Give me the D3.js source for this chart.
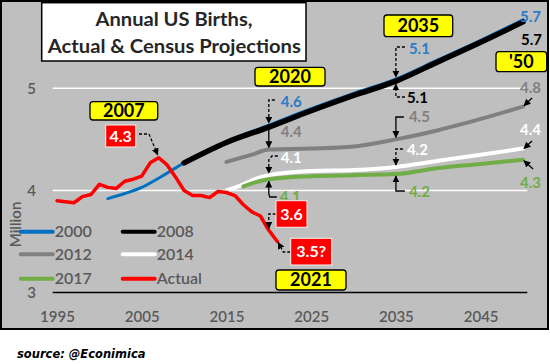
<!DOCTYPE html>
<html><head><meta charset="utf-8">
<script src="https://cdn.jsdelivr.net/npm/d3@7"></script>
<style>
html,body{margin:0;padding:0;background:#fff;}
svg{display:block;}
text{font-family:Lato,"Open Sans",sans-serif;}
</style></head><body>
<svg id="chart" width="550" height="364"></svg>
<script>
// ---------- data ----------
const actualYears = [1995,1996,1997,1998,1999,2000,2001,2002,2003,2004,2005,2006,2007,2008,2009,2010,2011,2012,2013,2014,2015,2016,2017,2018,2019,2020,2021];
const actualBirths = [3.90,3.89,3.88,3.94,3.96,4.06,4.03,4.02,4.09,4.11,4.14,4.27,4.32,4.25,4.13,4.00,3.95,3.95,3.93,3.99,3.98,3.95,3.86,3.79,3.75,3.61,3.50];
const years2000 = [2001,2003,2005,2007,2010,2015,2020,2025,2030,2035,2040,2045,2050];
const births2000 = [3.92,3.97,4.03,4.12,4.27,4.48,4.64,4.80,4.95,5.09,5.28,5.47,5.67];
const years2008 = [2010,2015,2020,2025,2030,2035,2040,2045,2050];
const births2008 = [4.27,4.47,4.62,4.78,4.93,5.07,5.26,5.45,5.65];
const years2012 = [2015,2018,2020,2025,2030,2035,2040,2045,2050];
const births2012 = [4.28,4.35,4.40,4.41,4.43,4.50,4.59,4.70,4.82];
const years2014 = [2015,2017,2018,2020,2025,2030,2035,2040,2045,2050];
const births2014 = [4.00,4.06,4.10,4.15,4.19,4.20,4.23,4.29,4.35,4.41];
const years2017 = [2017,2018,2020,2025,2030,2035,2040,2045,2050];
const births2017 = [4.04,4.07,4.11,4.14,4.15,4.16,4.22,4.26,4.30];
const seriesNames = ["2000","2008","2012","2014","2017","Actual"];
const xTicks = [1995,2005,2015,2025,2035,2045];
const yTicks = [3,4,5];
const gridValues = [4,5];

// ---------- styles ----------
const C = {blue:"#0070C0", blueTxt:"#2A7BC8", black:"#000", gray:"#808080", grayTxt:"#7F7F7F",
  white:"#FFFFFF", green:"#70AD47", red:"#FF0000", axisTxt:"#595959", bg:"#BFBFBF"};
const seriesColors = [C.blue, C.black, C.gray, C.white, C.green, C.red];
const seriesWidths = [3, 5.5, 4, 4, 4, 3.5];

const svg = d3.select("#chart");
svg.append("rect").attr("x",1).attr("y",1).attr("width",547).attr("height",328)
  .attr("fill",C.bg).attr("stroke","#000").attr("stroke-width",2);

const defs = svg.append("defs");
defs.append("marker").attr("id","arr").attr("viewBox","0 0 10 10").attr("refX",9).attr("refY",5)
  .attr("markerWidth",7).attr("markerHeight",7).attr("markerUnits","userSpaceOnUse").attr("orient","auto")
  .append("path").attr("d","M0,0 L10,5 L0,10 z").attr("fill","#000");

const x = d3.scaleLinear().domain([1995,2050]).range([57,523]);
const y = d3.scaleLinear().domain([3,5]).range([292.6,88.3]);

// gridlines
svg.append("g").selectAll("line").data(gridValues).join("line")
  .attr("x1",x(1994.5)).attr("x2",x(2050.5)).attr("y1",d=>y(d)).attr("y2",d=>y(d))
  .attr("stroke","#fff").attr("stroke-width",1.5);

// axes
const xAxis = svg.append("g").attr("transform",`translate(0,${y(3)})`)
  .call(d3.axisBottom(x).tickValues(xTicks).tickSize(0).tickPadding(19).tickFormat(d3.format("d")));
xAxis.select(".domain").remove();
xAxis.selectAll("text").attr("font-size",15).attr("font-weight",600).attr("fill",C.axisTxt).style("font-family","Lato");
svg.append("line").attr("x1",x(1994.5)).attr("x2",x(2050.5)).attr("y1",y(3)).attr("y2",y(3))
  .attr("stroke","#000").attr("stroke-width",1.5);

const yAxis = svg.append("g").attr("transform","translate(53,0)")
  .call(d3.axisLeft(y).tickValues(yTicks).tickSize(0).tickPadding(17).tickFormat(d3.format("d")));
yAxis.select(".domain").remove();
yAxis.selectAll("text").attr("font-size",15).attr("font-weight",600).attr("fill",C.axisTxt).style("font-family","Lato");

svg.append("text").attr("transform","translate(21,224.5) rotate(-90)").attr("text-anchor","middle")
  .attr("font-size",15).attr("font-weight",600).attr("fill",C.axisTxt).text("Million");

// series
const seriesData = [
  years2000.map((yr,i)=>[yr,births2000[i]]),
  years2008.map((yr,i)=>[yr,births2008[i]]),
  years2012.map((yr,i)=>[yr,births2012[i]]),
  years2014.map((yr,i)=>[yr,births2014[i]]),
  years2017.map((yr,i)=>[yr,births2017[i]]),
  actualYears.map((yr,i)=>[yr,actualBirths[i]])
];
const lineSmooth = d3.line().x(d=>x(d[0])).y(d=>y(d[1])).curve(d3.curveMonotoneX);
const lineStraight = d3.line().x(d=>x(d[0])).y(d=>y(d[1]));
seriesData.forEach((s,i)=>{
  svg.append("path").datum(s).attr("d", i===5 ? lineStraight : lineSmooth)
    .attr("fill","none").attr("stroke",seriesColors[i]).attr("stroke-width",seriesWidths[i])
    .attr("stroke-linejoin","round").attr("stroke-linecap","round");
});

// legend
const legRows = [231.7,254.3,278.7], legCols = [20.7,122.7];
seriesNames.forEach((n,i)=>{
  const lx = legCols[i%2], ly = legRows[Math.floor(i/2)];
  svg.append("line").attr("x1",lx).attr("x2",lx+32).attr("y1",ly).attr("y2",ly)
    .attr("stroke",seriesColors[i]).attr("stroke-width",4).attr("stroke-linecap","round");
  svg.append("text").attr("x",lx+34).attr("y",ly+5.6).attr("font-size",16).attr("font-weight",600)
    .attr("fill",C.axisTxt).text(n);
});

// title box
svg.append("rect").attr("x",41.7).attr("y",2.7).attr("width",264.3).attr("height",58.3)
  .attr("fill","#fff").attr("stroke","#000").attr("stroke-width",1.5);
svg.append("text").attr("x",174).attr("y",26).attr("text-anchor","middle").attr("font-size",19)
  .attr("font-weight","bold").attr("fill","#262626")
  .attr("textLength",157).attr("lengthAdjust","spacingAndGlyphs").text("Annual US Births,");
svg.append("text").attr("x",174.3).attr("y",52.7).attr("text-anchor","middle").attr("font-size",19)
  .attr("font-weight","bold").attr("fill","#262626")
  .attr("textLength",253).attr("lengthAdjust","spacingAndGlyphs").text("Actual & Census Projections");

// connectors
const x07 = x(2007), x20 = x(2020), x21 = x(2021), x35 = x(2035), x50 = x(2050);
const conns = [
  {d:`M139,134 H149 L${x07-1},${y(4.32)-3}`, dash:true},
  {d:`M${x20+6},100 H${x20} V${y(4.64)-2}`, dash:true},
  {d:`M${x20},${y(4.64)+1} V${y(4.40)-2}`, dash:false},
  {d:`M${x20+9},156 H${x20+3} L${x20},160 V${y(4.15)-2}`, dash:true},
  {d:`M${x20+8},197 H${x20+1} L${x20},194 V${y(4.11)+2}`, dash:false},
  {d:`M${x20+7},214 H${x20} V${y(3.61)-2}`, dash:true},
  {d:`M${x21+13},252 H${x21+6} L${x21+1},${y(3.50)+1}`, dash:true},
  {d:`M${x35+9},47 H${x35} V${y(5.09)-2}`, dash:true},
  {d:`M${x35+9},97 H${x35} V${y(5.07)+3}`, dash:true},
  {d:`M${x35+8},117 H${x35} V${y(4.50)-2}`, dash:false},
  {d:`M${x35+7},149 H${x35} V${y(4.23)-2}`, dash:true},
  {d:`M${x35+9},191 H${x35} V${y(4.16)+2}`, dash:false},
  {d:`M${x50+9},98 L${x50+1},${y(4.82)-1}`, dash:false},
  {d:`M${x50+9},141 L${x50+1},${y(4.41)}`, dash:false},
  {d:`M${x50+10},169 L${x50+1},${y(4.30)+1}`, dash:false}
];
conns.forEach(c=>{
  svg.append("path").attr("d",c.d).attr("fill","none").attr("stroke","#000").attr("stroke-width",1.3)
    .attr("stroke-dasharray",c.dash?"3,2":null).attr("marker-end","url(#arr)");
});

// value labels
const labels = [
  {t:"4.6", x:x20+12, yc:102, f:C.blueTxt},
  {t:"4.4", x:x20+12, yc:132, f:C.grayTxt},
  {t:"4.1", x:x20+12, yc:158, f:"#fff"},
  {t:"4.1", x:x20+11, yc:197, f:C.green},
  {t:"5.1", x:x35+13, yc:48.3, f:C.blueTxt},
  {t:"5.1", x:x35+11, yc:97.7, f:"#000"},
  {t:"4.5", x:x35+13, yc:116.7, f:C.grayTxt},
  {t:"4.2", x:x35+11, yc:150, f:"#fff"},
  {t:"4.2", x:x35+13, yc:191.7, f:C.green},
  {t:"5.7", x:x50-3, yc:16.7, f:C.blueTxt},
  {t:"5.7", x:x50-2, yc:40, f:"#000"},
  {t:"4.8", x:x50-3, yc:87.3, f:C.grayTxt},
  {t:"4.4", x:x50-3, yc:129.3, f:"#fff"},
  {t:"4.3", x:x50-3, yc:182.7, f:C.green}
];
labels.forEach(l=>{
  svg.append("text").attr("x",l.x).attr("y",l.yc+5.4).attr("font-size",15).attr("font-weight","bold")
    .attr("fill",l.f).text(l.t);
});

// boxes
const yellowBoxes = [
  {t:"2007", x0:90, x1:157.7, y0:101.7, y1:120},
  {t:"2020", x0:255, x1:325, y0:67.3, y1:86},
  {t:"2035", x0:384, x1:452.7, y0:15, y1:36.7},
  {t:"'50", x0:496, x1:546.7, y0:51.7, y1:71.7},
  {t:"2021", x0:276, x1:346, y0:270, y1:290}
];
yellowBoxes.forEach(b=>{
  svg.append("rect").attr("x",b.x0).attr("y",b.y0).attr("width",b.x1-b.x0).attr("height",b.y1-b.y0)
    .attr("rx",3).attr("fill","#FFFF00").attr("stroke","#000").attr("stroke-width",1.3);
  svg.append("text").attr("x",(b.x0+b.x1)/2).attr("y",(b.y0+b.y1)/2+6.4).attr("text-anchor","middle")
    .attr("font-size",18).attr("font-weight","bold").attr("fill","#000").text(b.t);
});
const redBoxes = [
  {t:"4.3", x0:105.7, x1:135.7, y0:125, y1:147},
  {t:"3.6", x0:276, x1:307, y0:200.7, y1:227.3},
  {t:"3.5?", x0:290.7, x1:331.7, y0:238.3, y1:265}
];
redBoxes.forEach(b=>{
  svg.append("rect").attr("x",b.x0).attr("y",b.y0).attr("width",b.x1-b.x0).attr("height",b.y1-b.y0)
    .attr("fill",C.red).attr("stroke","#F2F2F2").attr("stroke-width",1);
  svg.append("text").attr("x",(b.x0+b.x1)/2).attr("y",(b.y0+b.y1)/2+5.6).attr("text-anchor","middle")
    .attr("font-size",16).attr("font-weight","bold").attr("fill","#fff").text(b.t);
});

// source
svg.append("text").attr("x",17).attr("y",358).attr("font-size",11.5).attr("font-weight","bold")
  .attr("font-style","italic").style("font-family","'DejaVu Sans'").attr("fill","#000").text("source: @Econimica");
</script>
</body></html>
